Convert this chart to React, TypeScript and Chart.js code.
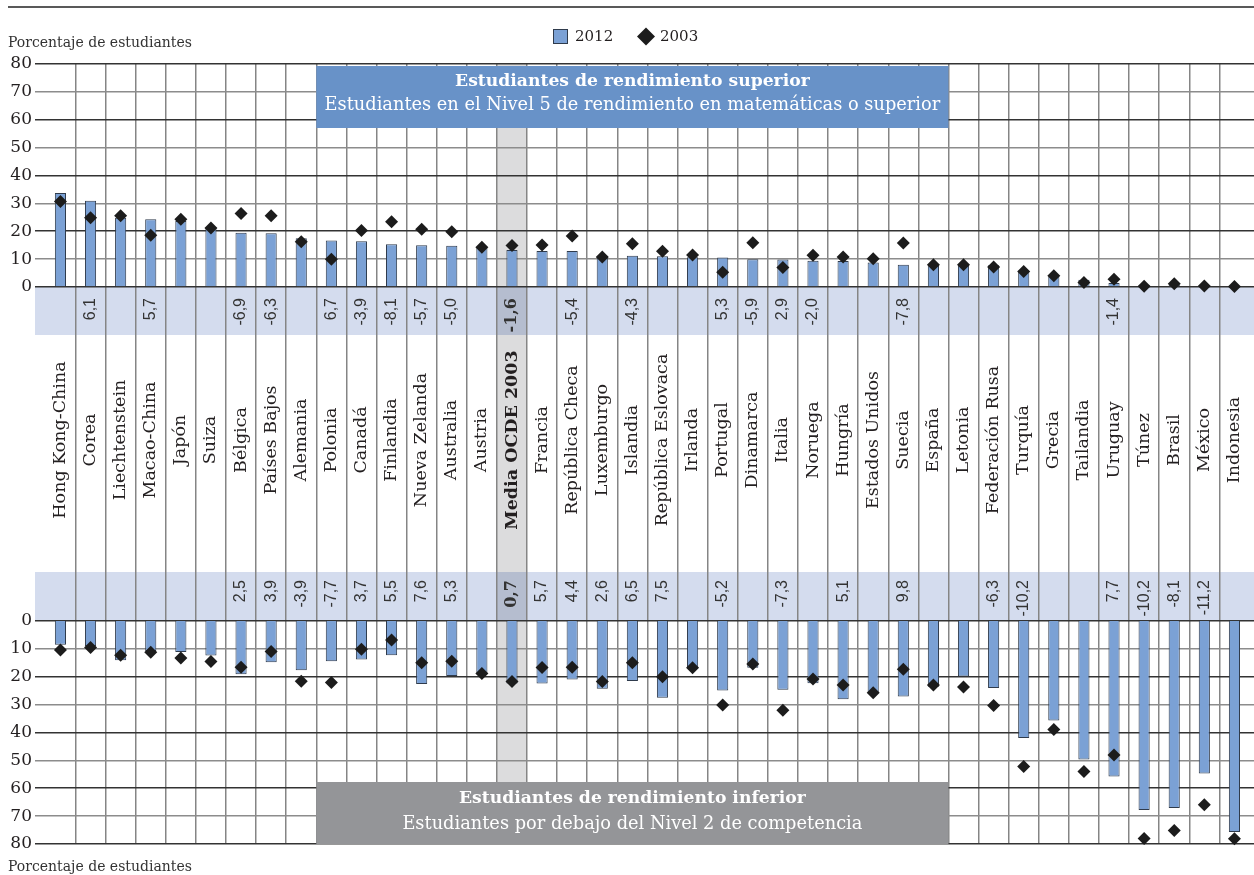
import { useEffect, useRef } from 'react';
import { Chart, registerables } from 'chart.js';

Chart.register(...registerables);

// ---------- data ----------
const countries = [
  'Hong Kong-China', 'Corea', 'Liechtenstein', 'Macao-China', 'Japón', 'Suiza', 'Bélgica', 'Países Bajos',
  'Alemania', 'Polonia', 'Canadá', 'Finlandia', 'Nueva Zelanda', 'Australia', 'Austria', 'Media OCDE 2003',
  'Francia', 'República Checa', 'Luxemburgo', 'Islandia', 'República Eslovaca', 'Irlanda', 'Portugal',
  'Dinamarca', 'Italia', 'Noruega', 'Hungría', 'Estados Unidos', 'Suecia', 'España', 'Letonia',
  'Federación Rusa', 'Turquía', 'Grecia', 'Tailandia', 'Uruguay', 'Túnez', 'Brasil', 'México', 'Indonesia',
];

// Top performers (Level 5 or above), % of students
const top2012 = [
  33.7, 30.9, 24.8, 24.3, 23.7, 21.4, 19.5, 19.3, 17.5, 16.7, 16.4, 15.3, 15.0, 14.8, 14.3, 13.3,
  12.9, 12.9, 11.2, 11.2, 11.0, 10.7, 10.6, 10.0, 9.9, 9.4, 9.3, 8.8, 8.0, 8.0, 8.0, 7.8,
  5.9, 3.9, 2.6, 1.4, 0.8, 0.8, 0.6, 0.3,
];
const top2003 = [
  30.7, 24.8, 25.6, 18.6, 24.3, 21.2, 26.4, 25.6, 16.2, 10.0, 20.3, 23.4, 20.7, 19.8, 14.3, 14.9,
  15.1, 18.3, 10.8, 15.5, 12.8, 11.5, 5.3, 15.9, 7.0, 11.4, 10.8, 10.1, 15.8, 8.0, 8.0, 7.2,
  5.6, 4.0, 1.6, 2.8, 0.3, 1.2, 0.4, 0.2,
];
const topChange: (number | null)[] = [
  null, 6.1, null, 5.7, null, null, -6.9, -6.3, null, 6.7, -3.9, -8.1, -5.7, -5.0, null, -1.6,
  null, -5.4, null, -4.3, null, null, 5.3, -5.9, 2.9, -2.0, null, null, -7.8, null, null, null,
  null, null, null, -1.4, null, null, null, null,
];

// Low performers (below Level 2), % of students
const low2012 = [
  8.5, 9.1, 14.1, 10.8, 11.1, 12.4, 19.1, 14.8, 17.7, 14.4, 13.8, 12.3, 22.6, 19.7, 18.7, 22.4,
  22.4, 21.0, 24.3, 21.5, 27.5, 16.9, 24.9, 16.8, 24.7, 22.3, 28.1, 25.8, 27.1, 23.6, 19.9, 24.0,
  42.0, 35.7, 49.7, 55.8, 67.8, 67.1, 54.7, 75.7,
];
const low2003 = [
  10.4, 9.5, 12.3, 11.2, 13.3, 14.5, 16.6, 10.9, 21.6, 22.1, 10.1, 6.8, 15.0, 14.4, 18.8, 21.7,
  16.7, 16.6, 21.7, 15.0, 20.0, 16.8, 30.1, 15.4, 32.0, 20.8, 23.0, 25.7, 17.3, 23.0, 23.7, 30.3,
  52.2, 38.9, 54.0, 48.1, 78.0, 75.2, 65.9, 78.1,
];
const lowChange: (number | null)[] = [
  null, null, null, null, null, null, 2.5, 3.9, -3.9, -7.7, 3.7, 5.5, 7.6, 5.3, null, 0.7,
  5.7, 4.4, 2.6, 6.5, 7.5, null, -5.2, null, -7.3, null, 5.1, null, 9.8, null, null, -6.3,
  -10.2, null, null, 7.7, -10.2, -8.1, -11.2, null,
];

const yTickValues = [0, 10, 20, 30, 40, 50, 60, 70, 80];
const highlightIndex = 15; // Media OCDE 2003
const boxFrom = 9; // first column covered by the panel titles
const boxTo = 29; // last column covered by the panel titles

const legendLabels = ['2012', '2003'];
const axisTitle = 'Porcentaje de estudiantes';
const topTitle = ['Estudiantes de rendimiento superior', 'Estudiantes en el Nivel 5 de rendimiento en matemáticas o superior'];
const lowTitle = ['Estudiantes de rendimiento inferior', 'Estudiantes por debajo del Nivel 2 de competencia'];

// ---------- layout / style ----------
const W = 1254;
const H = 875;
const PAD_TOP = 64;
const PANEL_H = 223;
const MID_H = 334;
const PAD_BOTTOM = H - PAD_TOP - 2 * PANEL_H - MID_H;
const GAP = (80 * MID_H) / PANEL_H; // value units used by the middle (labels) zone
const X_LEFT_EXTRA = 0.345;
const X_RIGHT_EXTRA = 0.15;

const BAR_FILL = '#7ba1d5';
const BAR_EDGE = '#2f3b4c';
const DIAMOND = '#1c1c1c';
const BAND = '#d4dcee';
const HILITE = '#dcdcdd';
const HILITE_BAND = '#b5bdcf';
const BLUE_BOX = '#6892c8';
const GREY_BOX = '#949598';
const TEXT = '#231f20';
const GRID_DARK = '#333333';
const GRID_LIGHT = '#8c8c8c';
const GRID_V = '#858585';
const SERIF = '"DejaVu Serif", serif';
const SANS = '"Liberation Sans", Arial, sans-serif';

const fmt = (v: number) => v.toFixed(1).replace('.', ',');
const panelValue = (v: number) => (v >= 0 ? v : Math.round(-(v + GAP)));

const overlayPlugin = {
  id: 'pisaOverlay',
  beforeDraw(chart: any) {
    const { ctx, chartArea } = chart;
    const xs = chart.scales.x;
    const ys = chart.scales.y;
    const t0 = ys.getPixelForValue(0);
    const b0 = ys.getPixelForValue(-GAP);
    ctx.save();
    ctx.fillStyle = '#ffffff';
    ctx.fillRect(0, 0, W, H);
    // bands
    ctx.fillStyle = BAND;
    ctx.fillRect(chartArea.left, t0, chartArea.right - chartArea.left, 48);
    ctx.fillRect(chartArea.left, b0 - 49, chartArea.right - chartArea.left, 49);
    // highlighted column
    const hx0 = xs.getPixelForValue(highlightIndex - 0.5);
    const hx1 = xs.getPixelForValue(highlightIndex + 0.5);
    ctx.fillStyle = HILITE;
    ctx.fillRect(hx0, chartArea.top, hx1 - hx0, chartArea.bottom - chartArea.top);
    ctx.fillStyle = HILITE_BAND;
    ctx.fillRect(hx0, t0, hx1 - hx0, 48);
    ctx.fillRect(hx0, b0 - 49, hx1 - hx0, 49);
    ctx.restore();
  },
  afterDraw(chart: any) {
    const { ctx, chartArea } = chart;
    const xs = chart.scales.x;
    const ys = chart.scales.y;
    const t0 = ys.getPixelForValue(0);
    const b0 = ys.getPixelForValue(-GAP);
    ctx.save();

    // cropped top rule
    ctx.strokeStyle = '#222';
    ctx.lineWidth = 1.5;
    ctx.beginPath();
    ctx.moveTo(8, 7);
    ctx.lineTo(W, 7);
    ctx.stroke();

    // axis titles
    ctx.fillStyle = '#333';
    ctx.font = `14px ${SERIF}`;
    ctx.textAlign = 'left';
    ctx.textBaseline = 'alphabetic';
    ctx.fillText(axisTitle, 8, 47);
    ctx.fillText(axisTitle, 8, 871);

    // legend
    ctx.fillStyle = BAR_FILL;
    ctx.fillRect(553.5, 29.5, 14, 14);
    ctx.strokeStyle = BAR_EDGE;
    ctx.lineWidth = 1;
    ctx.strokeRect(553.5, 29.5, 14, 14);
    ctx.fillStyle = TEXT;
    ctx.font = `15px ${SERIF}`;
    ctx.textBaseline = 'middle';
    ctx.fillText(legendLabels[0], 575, 37);
    ctx.fillStyle = DIAMOND;
    ctx.beginPath();
    ctx.moveTo(646, 27.5);
    ctx.lineTo(655, 36.5);
    ctx.lineTo(646, 45.5);
    ctx.lineTo(637, 36.5);
    ctx.closePath();
    ctx.fill();
    ctx.fillStyle = TEXT;
    ctx.fillText(legendLabels[1], 660, 37);

    // title boxes
    const bx0 = xs.getPixelForValue(boxFrom - 0.5);
    const bx1 = xs.getPixelForValue(boxTo + 0.5);
    const bcx = (bx0 + bx1) / 2;
    ctx.fillStyle = BLUE_BOX;
    ctx.fillRect(bx0, chartArea.top + 2, bx1 - bx0, 62);
    ctx.fillStyle = GREY_BOX;
    ctx.fillRect(bx0, chartArea.bottom - 62, bx1 - bx0, 62);
    ctx.fillStyle = '#ffffff';
    ctx.textAlign = 'center';
    ctx.textBaseline = 'middle';
    ctx.font = `bold 17.2px ${SERIF}`;
    ctx.fillText(topTitle[0], bcx, chartArea.top + 18);
    ctx.fillText(lowTitle[0], bcx, chartArea.bottom - 45);
    ctx.font = `17.8px ${SERIF}`;
    ctx.fillText(topTitle[1], bcx, chartArea.top + 41);
    ctx.fillText(lowTitle[1], bcx, chartArea.bottom - 20);

    // category labels and changes
    countries.forEach((name, i) => {
      const x = xs.getPixelForValue(i);
      const bold = i === highlightIndex;
      ctx.fillStyle = TEXT;
      ctx.save();
      ctx.translate(x, t0 + 153);
      ctx.rotate(-Math.PI / 2);
      ctx.textAlign = 'center';
      ctx.textBaseline = 'middle';
      ctx.font = `${bold ? 'bold ' : ''}17.5px ${SERIF}`;
      ctx.fillText(name, 0, 0);
      ctx.restore();

      const drawChange = (v: number | null, anchorY: number) => {
        if (v === null) return;
        ctx.save();
        ctx.translate(x, anchorY);
        ctx.rotate(-Math.PI / 2);
        ctx.textAlign = 'right';
        ctx.textBaseline = 'middle';
        ctx.fillStyle = '#333';
        ctx.font = bold ? `bold 16px ${SERIF}` : `16px ${SANS}`;
        ctx.fillText(fmt(v), 0, 0);
        ctx.restore();
      };
      drawChange(topChange[i], t0 + 11);
      drawChange(lowChange[i], b0 - 41);
    });
    ctx.restore();
  },
};

export default function App() {
  const canvasRef = useRef<HTMLCanvasElement | null>(null);

  useEffect(() => {
    const canvas = canvasRef.current;
    if (!canvas) return;
    const idx = countries.map((_, i) => i);
    const boundaries = countries.slice(1).map((_, i) => i + 0.5);
    const yTicks = [...yTickValues, ...yTickValues.map((v) => -GAP - v)];

    const chart = new Chart(canvas, {
      type: 'bar',
      data: {
        datasets: [
          {
            type: 'line',
            label: '2003 superior',
            data: idx.map((i) => ({ x: i, y: top2003[i] })),
            showLine: false,
            pointStyle: 'rectRot',
            pointRadius: 6.5,
            pointBackgroundColor: DIAMOND,
            pointBorderColor: DIAMOND,
            pointBorderWidth: 0,
            clip: false,
            order: 0,
          } as any,
          {
            type: 'line',
            label: '2003 inferior',
            data: idx.map((i) => ({ x: i, y: -GAP - low2003[i] })),
            showLine: false,
            pointStyle: 'rectRot',
            pointRadius: 6.5,
            pointBackgroundColor: DIAMOND,
            pointBorderColor: DIAMOND,
            pointBorderWidth: 0,
            clip: false,
            order: 0,
          } as any,
          {
            type: 'bar',
            label: '2012 superior',
            data: idx.map((i) => ({ x: i, y: top2012[i] })),
            backgroundColor: BAR_FILL,
            borderColor: BAR_EDGE,
            borderWidth: 1,
            grouped: false,
            barPercentage: 0.37,
            categoryPercentage: 1,
            order: 1,
          } as any,
          {
            type: 'bar',
            label: '2012 inferior',
            data: idx.map((i) => ({ x: i, y: [-GAP, -GAP - low2012[i]] })),
            backgroundColor: BAR_FILL,
            borderColor: BAR_EDGE,
            borderWidth: 1,
            borderSkipped: 'start',
            grouped: false,
            barPercentage: 0.37,
            categoryPercentage: 1,
            order: 1,
          } as any,
        ],
      },
      options: {
        responsive: false,
        animation: false,
        events: [],
        layout: { autoPadding: false, padding: { top: PAD_TOP, bottom: PAD_BOTTOM, left: 0, right: 0 } },
        plugins: {
          legend: { display: false },
          tooltip: { enabled: false },
          title: { display: false },
        },
        scales: {
          x: {
            type: 'linear',
            offset: false,
            min: -0.5 - X_LEFT_EXTRA,
            max: countries.length - 0.5 + X_RIGHT_EXTRA,
            afterBuildTicks: (s: any) => {
              s.ticks = boundaries.map((v) => ({ value: v }));
            },
            afterFit: (s: any) => {
              s.height = 0;
            },
            ticks: { display: false },
            grid: { offset: false, color: GRID_V, lineWidth: 1.5, drawTicks: false },
            border: { display: false },
          },
          y: {
            type: 'linear',
            min: -GAP - 80,
            max: 80,
            afterBuildTicks: (s: any) => {
              s.ticks = yTicks.map((v) => ({ value: v }));
            },
            afterFit: (s: any) => {
              s.width = 35;
            },
            ticks: {
              autoSkip: false,
              padding: 3,
              color: TEXT,
              font: { family: SERIF, size: 17 },
              callback: (v: any) => String(panelValue(v)),
            },
            grid: {
              color: (c: any) => {
                const v = c.tick ? panelValue(c.tick.value) : 0;
                return v % 20 === 0 ? GRID_DARK : GRID_LIGHT;
              },
              lineWidth: 1.6,
              drawTicks: false,
            },
            border: { display: false },
          },
        },
      } as any,
      plugins: [overlayPlugin],
    });
    return () => chart.destroy();
  }, []);

  return (
    <div style={{ position: 'absolute', left: 0, top: 0, width: W, height: H, background: '#fff' }}>
      <canvas ref={canvasRef} width={W} height={H} style={{ display: 'block', width: W, height: H }} />
    </div>
  );
}
